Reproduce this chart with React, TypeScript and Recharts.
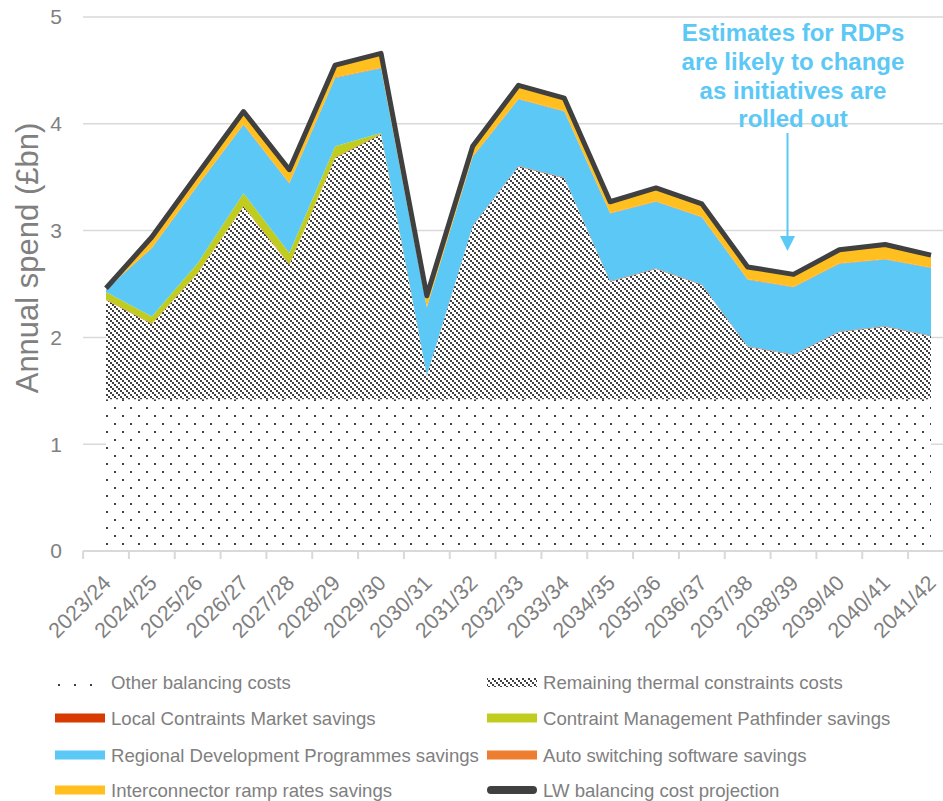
import React from 'react';
import { ComposedChart, Area, Line, XAxis, YAxis, CartesianGrid, Legend } from 'recharts';

const FONT = '"Liberation Sans", Arial, sans-serif';

const categories = ['2023/24', '2024/25', '2025/26', '2026/27', '2027/28', '2028/29', '2029/30', '2030/31', '2031/32', '2032/33', '2033/34', '2034/35', '2035/36', '2036/37', '2037/38', '2038/39', '2039/40', '2040/41', '2041/42'];
const otherBalancing = [1.42, 1.42, 1.42, 1.42, 1.42, 1.42, 1.42, 1.42, 1.42, 1.42, 1.42, 1.42, 1.42, 1.42, 1.42, 1.42, 1.42, 1.42, 1.42];
const remainingThermal = [0.93, 0.705, 1.18, 1.805, 1.26, 2.26, 2.48, 0.22, 1.62, 2.18, 2.07, 1.1, 1.22, 1.07, 0.49, 0.415, 0.63, 0.68, 0.59];
const lcmSavings = [0.005, 0.005, 0.005, 0.005, 0.005, 0.005, 0.005, 0.005, 0.005, 0.005, 0.005, 0.005, 0.005, 0.005, 0.005, 0.005, 0.005, 0.005, 0.005];
const cmpSavings = [0.07, 0.065, 0.09, 0.12, 0.105, 0.105, 0.01, 0, 0, 0, 0, 0, 0, 0, 0, 0, 0, 0, 0];
const rdpSavings = [0.02, 0.64, 0.725, 0.64, 0.65, 0.64, 0.605, 0.635, 0.645, 0.625, 0.62, 0.635, 0.625, 0.63, 0.625, 0.63, 0.635, 0.625, 0.635];
const autoSwitchSavings = [0.005, 0.005, 0.005, 0.005, 0.005, 0.005, 0.005, 0.005, 0.005, 0.005, 0.005, 0.005, 0.005, 0.005, 0.005, 0.005, 0.005, 0.005, 0.005];
const interconnectorSavings = [0.01, 0.1, 0.105, 0.12, 0.125, 0.115, 0.135, 0.105, 0.095, 0.125, 0.12, 0.105, 0.125, 0.12, 0.115, 0.115, 0.125, 0.135, 0.115];
const lwProjection = [2.46, 2.94, 3.53, 4.115, 3.57, 4.55, 4.66, 2.39, 3.79, 4.36, 4.24, 3.27, 3.4, 3.25, 2.66, 2.59, 2.82, 2.87, 2.77];
const yTicks = [0, 1, 2, 3, 4, 5];
const annotationLines = ['Estimates for RDPs', 'are likely to change', 'as initiatives are', 'rolled out'];

const data = categories.map((c, i) => ({
  category: c,
  other: otherBalancing[i],
  remaining: remainingThermal[i],
  lcm: lcmSavings[i],
  cmp: cmpSavings[i],
  rdp: rdpSavings[i],
  auto: autoSwitchSavings[i],
  ic: interconnectorSavings[i],
  lw: lwProjection[i],
}));

const CHART_W = 960;
const CHART_H = 801;
const MARGIN = { top: 17, right: 6, left: 23, bottom: 150 };
const Y_W = 60;
const PAD = 23;
const PLOT_W = CHART_W - MARGIN.left - MARGIN.right - Y_W;
const STEP = (PLOT_W - 2 * PAD) / (categories.length - 1);

const series = [
  { key: 'other', name: 'Other balancing costs', fill: 'url(#dotPat)', kind: 'dots' },
  { key: 'remaining', name: 'Remaining thermal constraints costs', fill: 'url(#hatchPat)', kind: 'hatch' },
  { key: 'lcm', name: 'Local Contraints Market savings', fill: '#D83B01', kind: 'solid' },
  { key: 'cmp', name: 'Contraint Management Pathfinder savings', fill: '#C0CD1E', kind: 'solid' },
  { key: 'rdp', name: 'Regional Development Programmes savings', fill: '#5BC8F5', kind: 'solid' },
  { key: 'auto', name: 'Auto switching software savings', fill: '#ED7D31', kind: 'solid' },
  { key: 'ic', name: 'Interconnector ramp rates savings', fill: '#FFBF1F', kind: 'solid' },
  { key: 'lw', name: 'LW balancing cost projection', fill: '#404040', kind: 'line' },
];

const XTick = (props: any) => {
  const { x, y, payload } = props;
  return (
    <g>
      <line x1={x - STEP / 2} y1={y} x2={x - STEP / 2} y2={y + 8} stroke="#D9D9D9" strokeWidth={2} />
      <text
        transform={`translate(${x + 1},${y + 28}) rotate(-45)`}
        textAnchor="end"
        dy="0.35em"
        fill="#808080"
        fontSize={21.5}
        fontFamily={FONT}
      >
        {payload.value}
      </text>
    </g>
  );
};

const LegendBlock = () => {
  const rowY = [22, 58, 95, 130];
  const colX = [55, 487];
  return (
    <svg width={943} height={150} style={{ display: 'block' }}>
      <defs>
        <pattern id="dotPatL" patternUnits="userSpaceOnUse" width={16} height={16} x={2} y={0}>
          <rect width={16} height={16} fill="#fff" />
          <rect x={0} y={0} width={2} height={2} fill="#404040" />
          <rect x={8} y={8} width={2} height={2} fill="#404040" />
        </pattern>
        <pattern id="hatchPatL" patternUnits="userSpaceOnUse" width={6} height={6}>
          <rect width={6} height={6} fill="#fff" />
          <rect x={0} y={0} width={2} height={2} fill="#404040" />
          <rect x={2} y={2} width={2} height={2} fill="#404040" />
          <rect x={4} y={4} width={2} height={2} fill="#404040" />
        </pattern>
      </defs>
      {series.map((s, i) => {
        const col = i % 2;
        const row = Math.floor(i / 2);
        const sx = colX[col];
        const cy = rowY[row];
        let swatch;
        if (s.kind === 'dots') {
          swatch = <rect x={sx} y={cy - 4} width={50} height={9} fill="url(#dotPatL)" />;
        } else if (s.kind === 'hatch') {
          swatch = <rect x={sx} y={cy - 4} width={50} height={9} fill="url(#hatchPatL)" />;
        } else if (s.kind === 'line') {
          swatch = <line x1={sx + 4} y1={cy} x2={sx + 46} y2={cy} stroke={s.fill} strokeWidth={8} strokeLinecap="round" />;
        } else {
          swatch = <rect x={sx} y={cy - 4.5} width={50} height={9} fill={s.fill} />;
        }
        return (
          <g key={s.key}>
            {swatch}
            <text x={sx + 56} y={cy} dy="0.35em" fill="#808080" fontSize={18.6} fontFamily={FONT}>
              {s.name}
            </text>
          </g>
        );
      })}
    </svg>
  );
};

const Annotation = () => {
  const cx = 793;
  const color = '#5BC8F5';
  return (
    <g>
      {annotationLines.map((t, i) => (
        <text key={i} x={cx} y={41 + i * 28.8} textAnchor="middle" fill={color} fontSize={24} fontWeight="bold" fontFamily={FONT}>
          {t}
        </text>
      ))}
      <line x1={787.5} y1={133} x2={787.5} y2={238} stroke={color} strokeWidth={2} />
      <polygon points="780,236 795,236 787.5,251" fill={color} />
    </g>
  );
};

export default function App() {
  return (
    <div style={{ position: 'absolute', left: 0, top: 0, width: 943, height: 801, overflow: 'hidden', background: '#fff' }}>
      <ComposedChart width={CHART_W} height={CHART_H} data={data} margin={MARGIN}>
        <defs>
          <pattern id="dotPat" patternUnits="userSpaceOnUse" width={16} height={16} x={2} y={7}>
            <rect width={16} height={16} fill="#fff" />
            <rect x={0} y={0} width={2} height={2} fill="#404040" />
            <rect x={8} y={8} width={2} height={2} fill="#404040" />
          </pattern>
          <pattern id="hatchPat" patternUnits="userSpaceOnUse" width={6} height={6}>
            <rect width={6} height={6} fill="#fff" />
            <rect x={0} y={0} width={2} height={2} fill="#404040" />
            <rect x={2} y={2} width={2} height={2} fill="#404040" />
            <rect x={4} y={4} width={2} height={2} fill="#404040" />
          </pattern>
        </defs>
        <CartesianGrid vertical={false} stroke="#D9D9D9" strokeWidth={1.5} />
        <XAxis
          dataKey="category"
          height={100}
          padding={{ left: PAD, right: PAD }}
          axisLine={{ stroke: '#D9D9D9', strokeWidth: 2 }}
          tickLine={false}
          tickSize={0}
          tickMargin={0}
          interval={0}
          tick={<XTick />}
        />
        <YAxis
          domain={[0, 5]}
          ticks={yTicks}
          width={Y_W}
          axisLine={false}
          tickLine={false}
          tickSize={0}
          tickMargin={21}
          tick={{ fill: '#808080', fontSize: 21, fontFamily: FONT }}
        />
        {series.filter((s) => s.kind !== 'line').map((s) => (
          <Area
            key={s.key}
            type="linear"
            dataKey={s.key}
            name={s.name}
            stackId="1"
            stroke="none"
            fill={s.fill}
            fillOpacity={1}
            isAnimationActive={false}
            dot={false}
            activeDot={false}
          />
        ))}
        <Line
          type="linear"
          dataKey="lw"
          name="LW balancing cost projection"
          stroke="#404040"
          strokeWidth={5}
          strokeLinejoin="round"
          dot={false}
          activeDot={false}
          isAnimationActive={false}
        />
        <text
          transform="translate(38,258) rotate(-90)"
          textAnchor="middle"
          fill="#808080"
          fontSize={31}
          fontFamily={FONT}
        >
          Annual spend (£bn)
        </text>
        <Annotation />
        <Legend
          layout="horizontal"
          verticalAlign="middle"
          align="center"
          wrapperStyle={{ position: 'absolute', left: 0, top: 660, width: 943, height: 150 }}
          content={() => <LegendBlock />}
        />
      </ComposedChart>
    </div>
  );
}
